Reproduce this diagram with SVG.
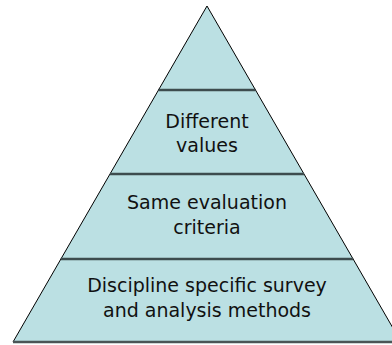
<svg xmlns="http://www.w3.org/2000/svg" width="392" height="345" viewBox="0 0 392 345">
  <style>
    .layer { fill: #bbe0e3; stroke: #000; stroke-width: 1; stroke-linejoin: miter; }
    .sep { stroke: #3d4c4e; stroke-width: 2.5; fill: none; }
    .base { stroke: #4a5556; stroke-width: 2.5; fill: none; }
    .lbl { font-family: "DejaVu Sans", Verdana, sans-serif; font-size: 19px; fill: #111; text-anchor: middle; }
  </style>
  <rect width="392" height="345" fill="#ffffff"/>
  <g id="layer-top">
    <polygon class="layer" points="207,6 158.5,90 255.5,90"/>
  </g>
  <g id="layer-different-values">
    <polygon class="layer" points="158.5,90 255.5,90 304,174 110,174"/>
    <text class="lbl" x="207" y="128">Different</text>
    <text class="lbl" x="207" y="152">values</text>
  </g>
  <g id="layer-same-evaluation">
    <polygon class="layer" points="110,174 304,174 353.1,259 60.9,259"/>
    <text class="lbl" x="207" y="209">Same evaluation</text>
    <text class="lbl" x="207" y="234">criteria</text>
  </g>
  <g id="layer-discipline">
    <polygon class="layer" points="60.9,259 353.1,259 401,342 13,342"/>
    <text class="lbl" x="207" y="292">Discipline specific survey</text>
    <text class="lbl" x="207" y="317">and analysis methods</text>
  </g>
  <g id="separators">
    <line class="sep" x1="158.5" y1="90" x2="255.5" y2="90"/>
    <line class="sep" x1="110" y1="174" x2="304" y2="174"/>
    <line class="sep" x1="60.9" y1="259" x2="353.1" y2="259"/>
    <line class="base" x1="13" y1="342" x2="392" y2="342"/>
  </g>
  <g id="connectors"></g>
</svg>
